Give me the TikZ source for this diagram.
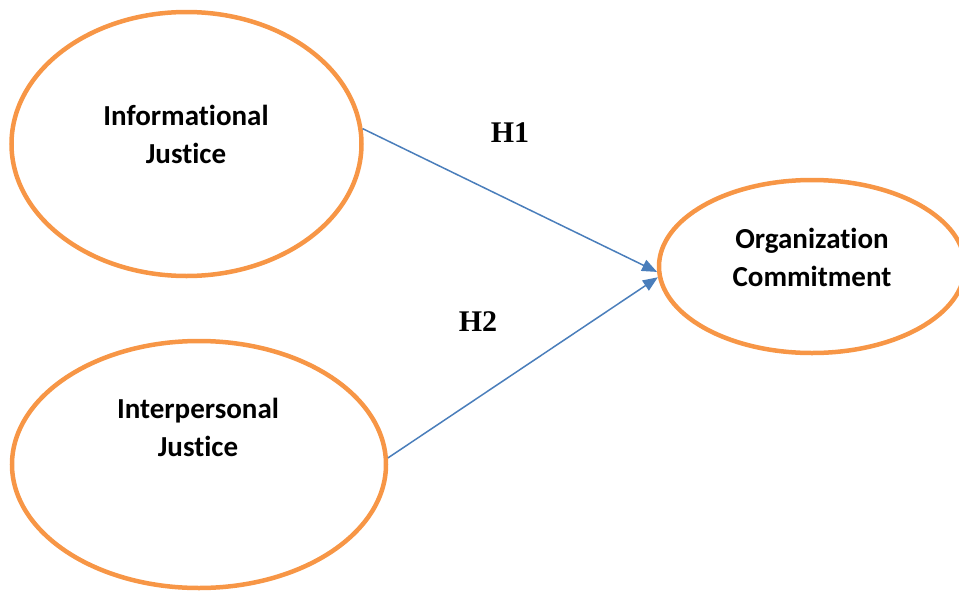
\documentclass[tikz,border=0pt]{standalone}
\usepackage{fontspec}
\newfontfamily\constructfont[Ligatures=NoCommon]{Carlito}
\newfontfamily\hypfont{Liberation Serif}
\usetikzlibrary{shapes.geometric,arrows.meta}
\definecolor{constructorange}{HTML}{F79646}
\definecolor{effectblue}{HTML}{4A7EBB}

\begin{document}
\begin{tikzpicture}[x=1pt,y=-1pt,
    construct/.style={ellipse,draw=constructorange,line width=4.5pt,inner sep=0pt},
    constructtext/.style={font=\constructfont\bfseries\fontsize{29pt}{38pt}\selectfont,align=center},
    hyp/.style={font=\hypfont\bfseries\fontsize{30pt}{36pt}\selectfont},
    effect/.style={draw=effectblue,line width=1.5pt,-{Triangle[length=15pt,width=12pt]}}]
    \useasboundingbox (0,0) rectangle (959,592);
    \node[construct,minimum width=350pt,minimum height=264pt] (info) at (186.5,144) {};
    \node[construct,minimum width=374pt,minimum height=247pt] (inter) at (199,464.5) {};
    \node[construct,minimum width=306pt,minimum height=173pt] (org) at (812,266.5) {};
    \node[constructtext] (infotext) at (186,134) {Informational\\Justice};
    \node[constructtext] (intertext) at (198,427.5) {Interpersonal\\Justice};
    \node[constructtext] (orgtext) at (812,257) {Organization\\Commitment};
    \node[hyp] (h1) at (510,133) {H1};
    \node[hyp] (h2) at (478,322) {H2};
    \draw[effect] (info.5) -- (org.182);
    \draw[effect] (inter.2) -- (org.184);
\end{tikzpicture}
\end{document}
